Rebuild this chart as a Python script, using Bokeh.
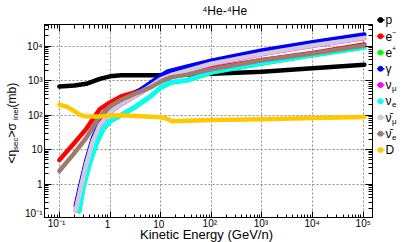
import math
from bokeh.plotting import figure
from bokeh.models import LogAxis, FixedTicker, Range1d, CustomJSTickFormatter, Label
from bokeh.layouts import row, column
from bokeh.embed import file_html
from bokeh.resources import INLINE
from bokeh.core.properties import value

FONT = "Liberation Sans"

# ---------------- data ----------------
E_p = [0.1, 0.2, 0.34, 0.63, 1.0, 1.65, 3.0, 10, 27, 100, 1e3, 1e4, 1.05e5]
S_p = [680, 730, 810, 1130, 1340, 1450, 1440, 1450, 1480, 1580, 1820, 2300, 2900]

E_em = [0.1, 0.19, 0.34, 0.63, 1.0, 1.65, 3.05, 6.5, 10, 16, 34, 100, 1e3, 1e4, 1.05e5]
S_em = [5.0, 14.5, 40, 150, 235, 350, 460, 720, 1050, 1320, 1580, 2300, 4000, 6400, 11200]

E_ep = [0.247, 0.30, 0.4, 0.54, 0.73, 1.0, 1.44, 3.05, 6.5, 10, 16, 34, 100, 1e3, 1e4, 1.05e5]
S_ep = [0.16, 0.85, 4.0, 15, 38, 66, 88, 165, 360, 630, 880, 1030, 1720, 3150, 5500, 9200]

E_g = [0.21, 0.254, 0.34, 0.46, 0.63, 1.0, 1.44, 3.05, 6.5, 10, 13.9, 34, 100, 1e3, 1e4, 1.05e5]
S_g = [0.23, 0.8, 4.8, 22, 62, 135, 215, 415, 900, 1400, 1870, 2580, 3800, 7600, 13000, 22000]

E_nm = [0.21, 0.254, 0.34, 0.46, 0.63, 1.0, 1.44, 3.05, 6.5, 10, 16, 34, 100, 1e3, 1e4, 1.05e5]
S_nm = [0.17, 0.6, 3.7, 17, 50, 118, 185, 350, 700, 1080, 1420, 1950, 3050, 5900, 10300, 17200]

E_ne = [0.247, 0.30, 0.4, 0.54, 0.73, 1.0, 1.44, 3.05, 6.5, 10, 16, 34, 100, 1e3, 1e4, 1.05e5]
S_ne = [0.17, 0.9, 4.2, 16, 40, 69, 91, 170, 370, 650, 900, 1050, 1750, 3200, 5600, 9400]

E_anm = [0.21, 0.254, 0.34, 0.46, 0.63, 1.0, 1.44, 3.05, 6.5, 10, 16, 34, 100, 1e3, 1e4, 1.05e5]
S_anm = [0.17, 0.6, 3.8, 18, 52, 120, 190, 360, 720, 1100, 1450, 2000, 3100, 6000, 10500, 17500]

E_ane = [0.1, 0.19, 0.34, 0.63, 1.0, 1.65, 3.05, 6.5, 10, 16, 34, 100, 1e3, 1e4, 1.05e5]
S_ane = [2.4, 7.4, 22, 92, 180, 275, 415, 650, 940, 1250, 1500, 2150, 3900, 6200, 10500]

E_D = [0.1, 0.14, 0.19, 0.254, 0.34, 0.63, 1.0, 1.65, 5, 10, 13, 17, 34, 100, 1e3, 1e4, 1.05e5]
S_D = [200, 177, 135, 103, 91, 91, 98, 100, 92, 87, 80, 66, 69, 72, 76, 83, 89]

x_ticks = [0.1, 1, 10, 100, 1e3, 1e4, 1e5]
x_tick_labels = ["10⁻¹", "1", "10", "10²", "10³", "10⁴", "10⁵"]
y_ticks = [0.1, 1, 10, 100, 1e3, 1e4]
y_tick_labels = ["10⁻¹", "1", "10", "10²", "10³", "10⁴"]

title_text = "⁴He-⁴He"
x_label = "Kinetic Energy (GeV/n)"
y_label_pieces = [("<η", False), ("sec", True), (">", False), (" σ", False), ("inel", True), (" (mb)", False)]

leg_main = ["p", "e", "e", "γ", "ν", "ν", "ν\u0304", "ν\u0304", "D"]
leg_sup = ["", "−", "+", "", "", "", "", "", ""]
leg_sub = ["", "", "", "", "μ", "e", "μ", "e", ""]
colors = ["black", "#ff0000", "#00ff00", "#0000ff", "#ff00ff", "#00ffff", "#d2cad9", "#9e7b6e", "#ffc800"]

series = [(E_p, S_p), (E_em, S_em), (E_ep, S_ep), (E_g, S_g), (E_nm, S_nm),
          (E_ne, S_ne), (E_anm, S_anm), (E_ane, S_ane), (E_D, S_D)]


def blank_fig(w, h):
    f = figure(width=w, height=h, x_range=Range1d(0, w), y_range=Range1d(h, 0),
               output_backend="svg", toolbar_location=None, min_border=0,
               x_axis_location=None, y_axis_location=None, outline_line_color=None)
    f.xgrid.visible = False
    f.ygrid.visible = False
    return f


# ---------------- layout sizes ----------------
YL_W, MAIN_W = 22, 352
TITLE_H, ROW_H, XL_H = 24, 194, 24
LEFT_B, RIGHT_B = 19, 2
xr = Range1d(0.0509, 1.52e5)

# ---------------- main figure ----------------
p = figure(width=MAIN_W, height=ROW_H, x_axis_type="log", y_axis_type="log",
           x_range=xr, y_range=Range1d(0.1, 42800),
           output_backend="svg", toolbar_location=None,
           min_border_left=LEFT_B, min_border_right=RIGHT_B, min_border_top=0, min_border_bottom=0)
p.outline_line_color = "black"

minor = [m * 10.0 ** k for k in range(-2, 6) for m in range(2, 10)]
xt = FixedTicker(ticks=x_ticks, minor_ticks=minor)
yt = FixedTicker(ticks=y_ticks, minor_ticks=minor)

fmt_code = """
for (let i = 0; i < tv.length; i++) {
  if (Math.abs(Math.log10(tv[i]) - Math.log10(tick)) < 1e-6) return tl[i];
}
return "";
"""
bottom = p.below[0]
left = p.left[0]
bottom.ticker = xt
left.ticker = yt
left.formatter = CustomJSTickFormatter(args=dict(tv=y_ticks, tl=y_tick_labels), code=fmt_code)
p.xgrid.ticker = xt
p.ygrid.ticker = yt
for g in (p.xgrid, p.ygrid):
    g.grid_line_color = "#8c8c8c"
    g.grid_line_dash = "2 2"
    g.grid_line_width = 1

top = LogAxis(ticker=xt)
right = LogAxis(ticker=yt)
p.add_layout(top, "above")
p.add_layout(right, "right")
for ax in (top, right, bottom):
    ax.formatter = CustomJSTickFormatter(code="return ' ';")
    ax.major_label_text_font_size = "1px"
    ax.major_label_text_alpha = 0
    ax.major_label_standoff = 0

for ax in (bottom, left, top, right):
    ax.axis_line_color = "black"
    ax.major_tick_in = 7
    ax.major_tick_out = 0
    ax.minor_tick_in = 4
    ax.minor_tick_out = 0
    ax.major_tick_line_color = "black"
    ax.minor_tick_line_color = "black"
left.major_label_text_font = FONT
left.major_label_text_font_size = "10px"
left.major_label_text_color = "black"
left.major_label_standoff = 2

for (E, S), c in zip(series, colors):
    p.line(E, S, line_color=c, line_width=4.5, line_cap="round", line_join="round")

# ---------------- y label strip ----------------
yl = blank_fig(YL_W, ROW_H)
w = {'<': 0.584, 'η': 0.556, 's': 0.5, 'e': 0.556, 'c': 0.5, '>': 0.584, ' ': 0.278,
     'σ': 0.6, 'i': 0.222, 'n': 0.556, 'l': 0.222, '(': 0.333, 'm': 0.833, 'b': 0.556, ')': 0.333}
total = sum(sum(w[ch] for ch in t) * (8 if sub else 12) for t, sub in y_label_pieces)
ypos = 97 + total / 2
for t, sub in y_label_pieces:
    size = 8 if sub else 12
    yl.text(x=[11 + (3.5 if sub else 0)], y=[ypos], text=[t], angle=math.pi / 2,
            text_font=value(FONT), text_font_size=f"{size}px", text_align="left",
            text_baseline="middle", text_color="black")
    ypos -= sum(w[ch] for ch in t) * size

# ---------------- title strip ----------------
LEFT_W = YL_W + MAIN_W
tf = blank_fig(LEFT_W, TITLE_H)
tf.text(x=[207], y=[10.5], text=[title_text], text_font=value(FONT), text_font_size="12px",
        text_align="center", text_baseline="middle", text_color="black")

# ---------------- x tick labels + x label strip (shares the log x range) ----------------
xf = figure(width=LEFT_W, height=XL_H, x_axis_type="log", x_range=xr, y_range=Range1d(XL_H, 0),
            output_backend="svg", toolbar_location=None,
            min_border_left=YL_W + LEFT_B, min_border_right=RIGHT_B, min_border_top=0,
            min_border_bottom=0, x_axis_location=None, y_axis_location=None,
            outline_line_color=None)
xf.xgrid.visible = False
xf.ygrid.visible = False
xf.text(x=x_ticks, y=[5] * len(x_ticks), text=x_tick_labels, text_font=value(FONT),
        text_font_size="10px", text_align="center", text_baseline="middle", text_color="black")
xf.add_layout(Label(x=165, y=8, x_units="screen", y_units="screen", text=x_label,
                    text_font=FONT, text_font_size="13px", text_align="center",
                    text_baseline="middle", text_color="black"))

# ---------------- legend ----------------
LG_W, TOT_H = 415 - LEFT_W, TITLE_H + ROW_H + XL_H
lg = blank_fig(LG_W, TOT_H)
rows_y = [19.5 + 16.25 * i for i in range(len(leg_main))]
lg.segment(x0=[2.5] * len(rows_y), y0=rows_y, x1=[10] * len(rows_y), y1=rows_y,
           line_color=colors, line_width=1.5)
lg.scatter(x=[6] * len(rows_y), y=rows_y, size=5, color=colors)
lg.text(x=[11] * len(rows_y), y=rows_y, text=leg_main, text_font=value(FONT),
        text_font_size="12px", text_baseline="middle", text_color="black")
sup_i = [i for i, s in enumerate(leg_sup) if s]
lg.text(x=[17.5] * len(sup_i), y=[rows_y[i] - 4 for i in sup_i], text=[leg_sup[i] for i in sup_i],
        text_font=value(FONT), text_font_size="7px", text_baseline="middle", text_color="black")
sub_i = [i for i, s in enumerate(leg_sub) if s]
lg.text(x=[17.5] * len(sub_i), y=[rows_y[i] + 3.5 for i in sub_i], text=[leg_sub[i] for i in sub_i],
        text_font=value(FONT), text_font_size="8px", text_baseline="middle", text_color="black")

layout = row(column(tf, row(yl, p), xf), lg)
open("out.html", "w").write(file_html(layout, INLINE))
